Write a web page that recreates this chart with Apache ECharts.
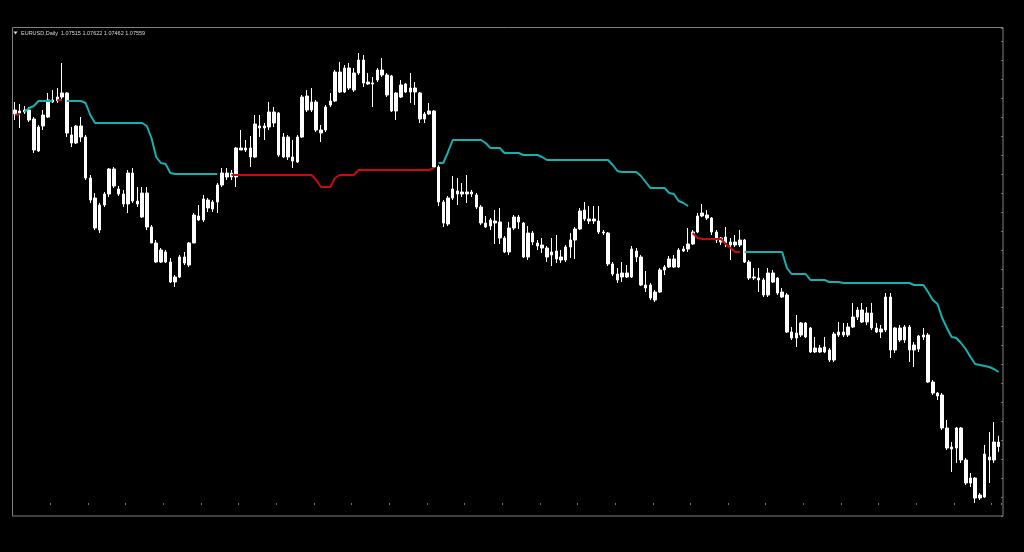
<!DOCTYPE html>
<html>
<head>
<meta charset="utf-8">
<style>
html,body{margin:0;padding:0;background:#000;}
#chart{width:1024px;height:552px;}
</style>
<script src="https://cdn.jsdelivr.net/npm/echarts@6/dist/echarts.min.js"></script>
</head>
<body>
<div id="chart"></div>
<script>
var symbolName = 'EURUSD';
var timeframe = 'Daily';

var opens = [1.1084,1.1085,1.1088,1.1088,1.1079,1.1047,1.1072,1.1081,1.1096,1.1097,
1.1105,1.1105,1.1055,1.1055,1.1072,1.1061,1.1020,1.1000,1.0968,1.0993,
1.1004,1.1029,1.1009,1.0994,1.0994,1.1025,1.0997,1.1005,1.1005,1.0971,
1.0955,1.0948,1.0946,1.0936,1.0916,1.0921,1.0935,1.0933,1.0955,1.0978,
1.0978,1.0998,1.0989,1.0996,1.1013,1.1021,1.1021,1.1021,1.1048,1.1050,
1.1041,1.1041,1.1070,1.1070,1.1071,1.1086,1.1085,1.1041,1.1061,1.1037,
1.1036,1.1061,1.1102,1.1096,1.1096,1.1065,1.1068,1.1093,1.1097,1.1106,
1.1106,1.1130,1.1108,1.1138,1.1138,1.1116,1.1114,1.1118,1.1128,1.1123,
1.1122,1.1087,1.1101,1.1114,1.1110,1.1110,1.1105,1.1079,1.1087,1.1087,
1.1031,1.0996,1.0974,1.1000,1.1007,1.1004,1.1006,1.1006,1.1003,1.0991,
1.0971,1.0972,1.0977,1.0976,1.0946,1.0946,1.0970,1.0981,1.0975,1.0941,
1.0965,1.0955,1.0953,1.0950,1.0946,1.0947,1.0938,1.0938,1.0951,1.0958,
1.0969,1.0988,1.0979,1.0977,1.0977,1.0966,1.0965,1.0934,1.0918,1.0921,
1.0925,1.0921,1.0947,1.0941,1.0913,1.0913,1.0898,1.0906,1.0928,1.0931,
1.0931,1.0931,1.0947,1.0949,1.0954,1.0966,1.0985,1.0983,1.0980,1.0966,
1.0960,1.0961,1.0956,1.0953,1.0958,1.0958,1.0936,1.0921,1.0920,1.0903,
1.0903,1.0925,1.0920,1.0906,1.0903,1.0866,1.0860,1.0863,1.0875,1.0870,
1.0850,1.0846,1.0851,1.0838,1.0838,1.0863,1.0863,1.0863,1.0871,1.0888,
1.0888,1.0885,1.0885,1.0870,1.0866,1.0868,1.0901,1.0848,1.0858,1.0871,
1.0871,1.0848,1.0849,1.0863,1.0863,1.0816,1.0805,1.0803,1.0770,1.0749,
1.0770,1.0770,1.0738,1.0720,1.0720,1.0700,1.0701,1.0738,1.0738,1.07515];

var highs = [1.1096,1.1094,1.1092,1.1091,1.1081,1.1073,1.1088,1.1105,1.1108,1.1110,
1.1135,1.1106,1.1071,1.1073,1.1081,1.1063,1.1023,1.1005,1.0995,1.1006,
1.1030,1.1031,1.1012,1.1008,1.1028,1.1030,1.1011,1.1011,1.1011,1.0973,
1.0958,1.0950,1.0948,1.0940,1.0923,1.0943,1.0946,1.0956,1.0985,1.0993,
1.1003,1.1000,1.0998,1.1015,1.1030,1.1030,1.1028,1.1051,1.1068,1.1058,
1.1062,1.1083,1.1083,1.1075,1.1096,1.1091,1.1086,1.1065,1.1063,1.1058,
1.1063,1.1103,1.1108,1.1110,1.1098,1.1073,1.1093,1.1105,1.1128,1.1136,
1.1133,1.1135,1.1130,1.1145,1.1143,1.1125,1.1121,1.1130,1.1140,1.1125,
1.1123,1.1106,1.1118,1.1115,1.1125,1.1116,1.1106,1.1086,1.1095,1.1088,
1.1033,1.0998,1.1002,1.1022,1.1020,1.1015,1.1023,1.1008,1.1005,1.0993,
1.0982,1.0980,1.0988,1.0990,1.0962,1.0976,1.0983,1.0983,1.0976,1.0972,
1.0967,1.0958,1.0960,1.0952,1.0960,1.0963,1.0948,1.0953,1.0965,1.0971,
1.0990,1.0996,1.0992,1.0992,1.0992,1.0968,1.0966,1.0936,1.0930,1.0936,
1.0933,1.0952,1.0950,1.0943,1.0927,1.0915,1.0908,1.0930,1.0933,1.0942,
1.0943,1.0950,1.0952,1.0970,1.0968,1.0985,1.0994,1.0988,1.0981,1.0968,
1.0961,1.0971,1.0960,1.0963,1.0968,1.0959,1.0938,1.0930,1.0930,1.0920,
1.0930,1.0928,1.0921,1.0910,1.0905,1.0871,1.0883,1.0876,1.0876,1.0871,
1.0861,1.0853,1.0861,1.0850,1.0866,1.0876,1.0875,1.0875,1.0895,1.0891,
1.0895,1.0891,1.0895,1.0875,1.0873,1.0905,1.0905,1.0871,1.0873,1.0873,
1.0873,1.0856,1.0863,1.0870,1.0865,1.0818,1.0806,1.0805,1.0778,1.0756,
1.0771,1.0771,1.0740,1.0725,1.0721,1.0705,1.0753,1.0766,1.0776,1.07622];

var lows = [1.1078,1.1070,1.1084,1.1076,1.1045,1.1046,1.1068,1.1080,1.1095,1.1095,
1.1098,1.1061,1.1051,1.1054,1.1056,1.1018,1.0995,1.0968,1.0965,1.0991,
1.1001,1.1010,1.1002,1.0991,1.0985,1.0995,1.0991,1.0980,1.0968,1.0955,
1.0935,1.0935,1.0935,1.0915,1.0911,1.0920,1.0933,1.0931,1.0955,1.0977,
1.0976,1.0986,1.0986,1.0985,1.1011,1.1018,1.1018,1.1011,1.1048,1.1046,
1.1031,1.1040,1.1061,1.1058,1.1068,1.1071,1.1041,1.1040,1.1038,1.1030,
1.1035,1.1060,1.1086,1.1086,1.1066,1.1056,1.1066,1.1091,1.1096,1.1105,
1.1105,1.1108,1.1106,1.1123,1.1111,1.1113,1.1091,1.1116,1.1121,1.1101,
1.1086,1.1078,1.1100,1.1105,1.1095,1.1093,1.1075,1.1075,1.1083,1.1030,
1.0992,1.0971,1.0972,1.0998,1.0993,1.1001,1.0995,1.1001,1.0989,1.0973,
1.0970,1.0968,1.0954,1.0954,1.0945,1.0943,1.0968,1.0969,1.0940,1.0938,
1.0953,1.0948,1.0945,1.0936,1.0932,1.0935,1.0935,1.0936,1.0940,1.0939,
1.0968,1.0977,1.0974,1.0974,1.0964,1.0963,1.0932,1.0922,1.0915,1.0916,
1.0920,1.0920,1.0936,1.0912,1.0906,1.0898,1.0896,1.0905,1.0923,1.0930,
1.0930,1.0930,1.0946,1.0946,1.0953,1.0965,1.0981,1.0978,1.0963,1.0955,
1.0953,1.0951,1.0938,1.0951,1.0951,1.0935,1.0918,1.0918,1.0906,1.0901,
1.0901,1.0915,1.0903,1.0900,1.0865,1.0858,1.0851,1.0861,1.0860,1.0845,
1.0845,1.0845,1.0845,1.0836,1.0836,1.0861,1.0861,1.0861,1.0870,1.0878,
1.0875,1.0873,1.0868,1.0865,1.0860,1.0866,1.0840,1.0845,1.0856,1.0855,
1.0836,1.0831,1.0846,1.0858,1.0815,1.0803,1.0798,1.0768,1.0748,1.0726,
1.0735,1.0735,1.0713,1.0711,1.0695,1.0698,1.0700,1.0715,1.0735,1.07462];

var closes = [1.1088,1.1087,1.1086,1.1078,1.1048,1.1071,1.1083,1.1098,1.1098,1.1101,
1.1101,1.1065,1.1063,1.1072,1.1061,1.1020,1.0998,1.0970,1.0993,1.1004,
1.1029,1.1012,1.1004,1.1004,1.1025,1.0997,1.0994,1.0981,1.0971,1.0955,
1.0936,1.0936,1.0936,1.0916,1.0921,1.0941,1.0941,1.0955,1.0983,1.0982,
1.0999,1.0990,1.0996,1.1013,1.1025,1.1025,1.1025,1.1050,1.1050,1.1048,
1.1050,1.1074,1.1072,1.1072,1.1086,1.1075,1.1043,1.1061,1.1041,1.1041,
1.1061,1.1101,1.1088,1.1088,1.1068,1.1068,1.1091,1.1097,1.1126,1.1126,
1.1130,1.1110,1.1125,1.1125,1.1115,1.1114,1.1115,1.1128,1.1123,1.1103,
1.1087,1.1105,1.1113,1.1106,1.1106,1.1106,1.1079,1.1084,1.1084,1.1031,
1.0996,1.0975,1.1000,1.1009,1.1004,1.1006,1.1004,1.1004,1.0991,1.0975,
1.0975,1.0978,1.0975,1.0960,1.0960,1.0970,1.0981,1.0976,1.0941,1.0965,
1.0956,1.0952,1.0950,1.0941,1.0943,1.0939,1.0941,1.0951,1.0958,1.0969,
1.0987,1.0979,1.0977,1.0979,1.0966,1.0965,1.0934,1.0924,1.0924,1.0925,
1.0921,1.0949,1.0941,1.0913,1.0910,1.0900,1.0906,1.0928,1.0931,1.0939,
1.0939,1.0948,1.0949,1.0954,1.0966,1.0982,1.0982,1.0980,1.0966,1.0958,
1.0956,1.0955,1.0953,1.0956,1.0953,1.0936,1.0920,1.0920,1.0918,1.0918,
1.0925,1.0916,1.0905,1.0901,1.0866,1.0860,1.0865,1.0875,1.0861,1.0846,
1.0846,1.0850,1.0846,1.0848,1.0864,1.0866,1.0866,1.0871,1.0881,1.0881,
1.0876,1.0876,1.0870,1.0866,1.0869,1.0901,1.0848,1.0870,1.0870,1.0858,
1.0848,1.0853,1.0862,1.0861,1.0816,1.0805,1.0802,1.0770,1.0750,1.0751,
1.0750,1.0738,1.0715,1.0715,1.0700,1.0703,1.0744,1.0741,1.0756,1.07559];

// trailing line drawn above price (cyan) and below price (red); null = not shown
var lineAbove = [null,null,1.1086,1.1090,1.1092,1.1097,1.1097,1.1097,1.1097,null,
null,1.1097,1.1097,1.1097,1.1097,1.1095,1.1083,1.1075,1.1075,1.1075,
1.1075,1.1075,1.1075,1.1075,1.1075,1.1075,1.1075,1.1075,1.1072,1.1060,
1.1041,1.1035,1.1034,1.1025,1.1024,1.1024,1.1024,1.1024,1.1024,1.1024,
1.1024,1.1024,1.1024,1.1024,null,null,null,null,null,null,
null,null,null,null,null,null,null,null,null,null,
null,null,null,null,null,null,null,null,null,null,
null,null,null,null,null,null,null,null,null,null,
null,null,null,null,null,null,null,null,null,null,
1.1035,1.1035,1.1046,1.1058,1.1058,1.1058,1.1058,1.1058,1.1058,1.1058,
1.1055,1.1050,1.1050,1.1050,1.1045,1.1045,1.1045,1.1045,1.1043,1.1043,
1.1043,1.1043,1.1041,1.1038,1.1038,1.1038,1.1038,1.1038,1.1038,1.1038,
1.1038,1.1038,1.1038,1.1038,1.1038,1.1038,1.1038,1.1033,1.1027,1.1026,
1.1026,1.1026,1.1026,1.1022,1.1016,1.1010,1.1010,1.1010,1.1010,1.1005,
1.1004,1.0997,1.0995,1.0992,null,null,null,null,null,null,
null,null,null,null,null,1.0946,1.0946,1.0946,1.0946,1.0946,
1.0946,1.0946,1.0946,1.0946,1.0930,1.0924,1.0924,1.0924,1.0924,1.0918,
1.0918,1.0918,1.0918,1.0916,1.0916,1.0916,1.0915,1.0915,1.0915,1.0915,
1.0915,1.0915,1.0915,1.0915,1.0915,1.0915,1.0915,1.0915,1.0915,1.0915,
1.0915,1.0913,1.0913,1.0913,1.0906,1.0898,1.0894,1.0880,1.0870,1.0861,
1.0860,1.0855,1.0849,1.0841,1.0834,1.0833,1.0832,1.0831,1.0829,1.0826];

var lineBelow = [1.1083,1.1084,null,null,null,null,null,null,null,1.1098,
1.1098,null,null,null,null,null,null,null,null,null,
null,null,null,null,null,null,null,null,null,null,
null,null,null,null,null,null,null,null,null,null,
null,null,null,null,null,null,1.1023,1.1023,1.1023,1.1023,
1.1023,1.1023,1.1023,1.1023,1.1023,1.1023,1.1023,1.1023,1.1023,1.1023,
1.1023,1.1023,1.1023,1.1023,1.1018,1.1011,1.1011,1.1011,1.1020,1.1023,
1.1023,1.1023,1.1023,1.1028,1.1028,1.1028,1.1028,1.1028,1.1028,1.1028,
1.1028,1.1028,1.1028,1.1028,1.1028,1.1028,1.1028,1.1028,1.1028,1.1030,
null,null,null,null,null,null,null,null,null,null,
null,null,null,null,null,null,null,null,null,null,
null,null,null,null,null,null,null,null,null,null,
null,null,null,null,null,null,null,null,null,null,
null,null,null,null,null,null,null,null,null,null,
null,null,null,null,1.0965,1.0960,1.0959,1.0959,1.0959,1.0959,
1.0959,1.0954,1.0950,1.0946,1.0946,null,null,null,null,null,
null,null,null,null,null,null,null,null,null,null,
null,null,null,null,null,null,null,null,null,null,
null,null,null,null,null,null,null,null,null,null,
null,null,null,null,null,null,null,null,null,null,
null,null,null,null,null,null,null,null,null,null];

var priceMin = 1.0682, priceMax = 1.1170;

var bars = [];
var candles = [];
for (var i = 0; i < opens.length; i++) {
  bars.push(String(i + 1));
  candles.push([opens[i], closes[i], lows[i], highs[i]]);
}
var last = opens.length - 1;
var headline = symbolName + ',' + timeframe + '  ' + opens[last].toFixed(5) + ' ' + highs[last].toFixed(5) + ' ' + lows[last].toFixed(5) + ' ' + closes[last].toFixed(5);

var chart = echarts.init(document.getElementById('chart'), null, {renderer: 'canvas'});
chart.setOption({
  backgroundColor: '#000000',
  animation: false,
  grid: {left: 12.65, right: 22.95, top: 28, bottom: 36, containLabel: false},
  xAxis: {
    type: 'category', data: bars, boundaryGap: true,
    axisLine: {show: false},
    axisTick: {show: true, interval: 7, length: 2, inside: true, lineStyle: {color: '#707070', width: 1}},
    axisLabel: {show: false}, splitLine: {show: false}
  },
  yAxis: [
    {type: 'value', min: priceMin, max: priceMax, axisLine: {show: false}, axisTick: {show: false}, axisLabel: {show: false}, splitLine: {show: false}},
    {type: 'value', position: 'right', offset: 2, min: -11, max: 477, interval: 19,
     axisLine: {show: false}, axisTick: {show: true, inside: true, length: 2, lineStyle: {color: '#707070', width: 1}},
     axisLabel: {show: false}, splitLine: {show: false}}
  ],
  series: [
    {type: 'candlestick', data: candles, barWidth: 3, z: 2,
     itemStyle: {color: '#ffffff', color0: '#ffffff', borderColor: '#ffffff', borderColor0: '#ffffff', borderWidth: 1}},
    {type: 'line', data: lineAbove, symbol: 'none', connectNulls: false, z: 3,
     lineStyle: {color: '#17b0b0', width: 2}},
    {type: 'line', data: lineBelow, symbol: 'none', connectNulls: false, z: 3,
     lineStyle: {color: '#c80b0b', width: 2}}
  ],
  graphic: [
    {type: 'rect', z: 10, silent: true, shape: {x: 12.5, y: 27.5, width: 990.5, height: 488.5},
     style: {fill: 'none', stroke: '#808080', lineWidth: 1}},
    {type: 'polygon', z: 10, silent: true, shape: {points: [[13.5, 31.5], [17.5, 31.5], [15.5, 34.5]]},
     style: {fill: '#d8d8d8'}},
    {type: 'text', z: 10, silent: true, x: 21, y: 33.3,
     style: {text: headline, fill: '#d8d8d8', font: '5.5px "Liberation Sans", Arial, sans-serif', textVerticalAlign: 'middle', verticalAlign: 'middle'}}
  ]
});
</script>
</body>
</html>
